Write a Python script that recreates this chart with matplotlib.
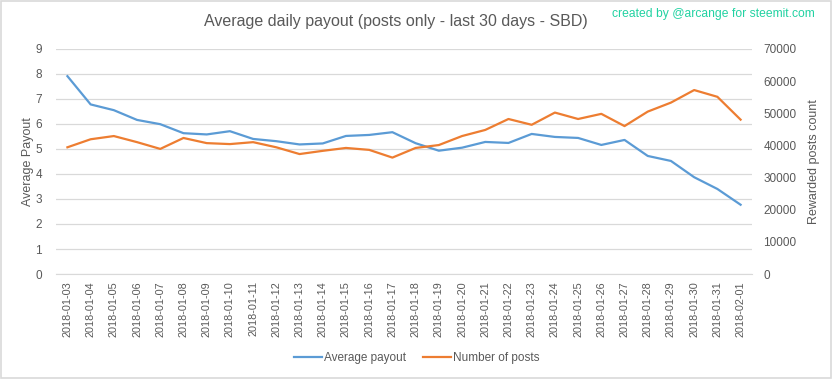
import matplotlib

matplotlib.use("Agg")
import matplotlib.pyplot as plt

plt.rcParams["font.family"] = ["Liberation Sans", "DejaVu Sans"]

# 数据：从图上读出来的估计值
dates = [
    "2018-01-03", "2018-01-04", "2018-01-05", "2018-01-06", "2018-01-07",
    "2018-01-08", "2018-01-09", "2018-01-10", "2018-01-11", "2018-01-12",
    "2018-01-13", "2018-01-14", "2018-01-15", "2018-01-16", "2018-01-17",
    "2018-01-18", "2018-01-19", "2018-01-20", "2018-01-21", "2018-01-22",
    "2018-01-23", "2018-01-24", "2018-01-25", "2018-01-26", "2018-01-27",
    "2018-01-28", "2018-01-29", "2018-01-30", "2018-01-31", "2018-02-01",
]
avg_payout = [
    7.91, 6.78, 6.55, 6.16, 5.99, 5.63, 5.58, 5.71, 5.40, 5.31,
    5.18, 5.22, 5.52, 5.56, 5.67, 5.23, 4.93, 5.05, 5.28, 5.24,
    5.60, 5.48, 5.44, 5.16, 5.36, 4.72, 4.52, 3.87, 3.40, 2.77,
]
num_posts = [
    39400, 41900, 42900, 41000, 38900, 42300, 40700, 40400, 41000, 39400,
    37300, 38300, 39200, 38600, 36200, 39200, 40100, 42900, 44800, 48200,
    46400, 50200, 48200, 49800, 46000, 50500, 53300, 57200, 55100, 48000,
]

BLUE = "#5B9BD5"
ORANGE = "#ED7D31"
GRID = "#D9D9D9"
TEXT = "#595959"

fig = plt.figure(figsize=(8.33, 3.79), dpi=100)
ax = fig.add_axes([0.067, 0.277, 0.836, 0.594])
ax2 = ax.twinx()

x = list(range(len(dates)))
l1, = ax.plot(x, avg_payout, color=BLUE, lw=1.6, label="Average payout")
l2, = ax2.plot(x, num_posts, color=ORANGE, lw=1.6, label="Number of posts")

ax.set_xlim(-0.5, len(dates) - 0.5)
ax.set_ylim(0, 9)
ax.set_yticks(range(0, 10))
ax2.set_ylim(0, 70000)
ax2.set_yticks(range(0, 70001, 10000))

ax.set_xticks(x)
ax.set_xticklabels(dates, rotation=90, fontsize=7.8, color=TEXT)
ax.tick_params(axis="y", labelsize=8.5, colors=TEXT, length=0, pad=10)
ax2.tick_params(axis="y", labelsize=8.5, colors=TEXT, length=0, pad=8)
ax.tick_params(axis="x", length=0, pad=5)

ax.grid(axis="y", color=GRID, lw=0.9)
ax.set_axisbelow(True)
for a in (ax, ax2):
    for s in a.spines.values():
        s.set_visible(False)
ax.spines["bottom"].set_visible(True)
ax.spines["bottom"].set_color(GRID)

ax.set_ylabel("Average Payout", fontsize=9, color=TEXT, labelpad=1)
ax2.set_ylabel("Rewarded posts count", fontsize=9, color=TEXT, labelpad=8)

fig.text(0.475, 0.942, "Average daily payout (posts only - last 30 days - SBD)",
         ha="center", va="center", fontsize=11.5, color=TEXT)
fig.text(0.978, 0.962, "created by @arcange for steemit.com",
         ha="right", va="center", fontsize=8.7, color="#22D2A2")

fig.legend(handles=[l1, l2], loc="center", bbox_to_anchor=(0.5, 0.055), ncol=2,
           frameon=False, fontsize=8.5, labelcolor=TEXT, handlelength=2.4,
           handletextpad=0.15, columnspacing=1.4)

# 外框
fig.patches.append(plt.Rectangle((0.001, 0.002), 0.997, 0.995, transform=fig.transFigure,
                                 fill=False, edgecolor="#D9D9D9", lw=1.2))

fig.savefig("out.png", dpi=100)
